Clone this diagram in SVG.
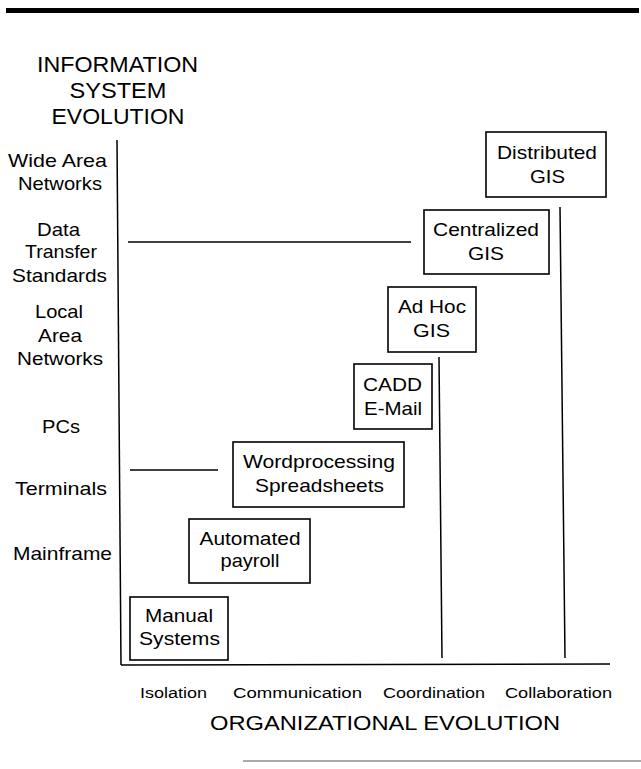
<svg xmlns="http://www.w3.org/2000/svg" width="641" height="769" viewBox="0 0 641 769">
  <style>
    text { font-family: "Liberation Sans", Arial, Helvetica, sans-serif; fill: #000; text-anchor: middle; }
    .title { font-size: 22px; }
    .lvl { font-size: 18.5px; }
    .box text { font-size: 18.5px; }
    .stage { font-size: 15.5px; }
    .box rect { fill: #fff; stroke: #000; stroke-width: 1.6; }
    .line { stroke: #000; stroke-width: 1.5; fill: none; }
  </style>

  <!-- heavy rule across the top of the page -->
  <rect x="6" y="8" width="633" height="5" fill="#000"/>

  <!-- vertical axis title -->
  <g id="y-title" class="title">
    <text x="117.5" y="72" textLength="161" lengthAdjust="spacingAndGlyphs">INFORMATION</text>
    <text x="118" y="98" textLength="97" lengthAdjust="spacingAndGlyphs">SYSTEM</text>
    <text x="118" y="124" textLength="133" lengthAdjust="spacingAndGlyphs">EVOLUTION</text>
  </g>

  <!-- technology levels along the vertical axis -->
  <g id="y-levels" class="lvl">
    <text x="57.5" y="167" textLength="99" lengthAdjust="spacingAndGlyphs">Wide Area</text>
    <text x="60" y="190" textLength="84" lengthAdjust="spacingAndGlyphs">Networks</text>
    <text x="58.5" y="236" textLength="43" lengthAdjust="spacingAndGlyphs">Data</text>
    <text x="61" y="258" textLength="72" lengthAdjust="spacingAndGlyphs">Transfer</text>
    <text x="59.5" y="282" textLength="95" lengthAdjust="spacingAndGlyphs">Standards</text>
    <text x="59" y="318" textLength="48" lengthAdjust="spacingAndGlyphs">Local</text>
    <text x="60" y="342" textLength="44" lengthAdjust="spacingAndGlyphs">Area</text>
    <text x="60" y="365" textLength="86" lengthAdjust="spacingAndGlyphs">Networks</text>
    <text x="61" y="433" textLength="38" lengthAdjust="spacingAndGlyphs">PCs</text>
    <text x="61" y="495" textLength="92" lengthAdjust="spacingAndGlyphs">Terminals</text>
    <text x="62.5" y="560" textLength="99" lengthAdjust="spacingAndGlyphs">Mainframe</text>
  </g>

  <!-- axes -->
  <g id="axes" class="line">
    <line x1="117" y1="140" x2="121" y2="665"/>
    <line x1="121" y1="665" x2="610" y2="664"/>
  </g>

  <!-- connectors -->
  <g id="connectors" class="line">
    <line x1="128" y1="242" x2="411" y2="242"/>
    <line x1="130" y1="470" x2="218" y2="470"/>
    <line x1="439" y1="357" x2="442" y2="658"/>
    <line x1="560" y1="207" x2="565" y2="658"/>
  </g>

  <!-- stages -->
  <g id="manual" class="box">
    <rect x="130" y="597" width="98" height="63"/>
    <text x="179" y="622" textLength="68" lengthAdjust="spacingAndGlyphs">Manual</text>
    <text x="179.5" y="645" textLength="81" lengthAdjust="spacingAndGlyphs">Systems</text>
  </g>
  <g id="automated" class="box">
    <rect x="189" y="519" width="121" height="64"/>
    <text x="250" y="545" textLength="101" lengthAdjust="spacingAndGlyphs">Automated</text>
    <text x="250" y="567" textLength="59" lengthAdjust="spacingAndGlyphs">payroll</text>
  </g>
  <g id="wordprocessing" class="box">
    <rect x="233" y="442" width="171" height="65"/>
    <text x="319" y="468" textLength="152" lengthAdjust="spacingAndGlyphs">Wordprocessing</text>
    <text x="319.5" y="492" textLength="129" lengthAdjust="spacingAndGlyphs">Spreadsheets</text>
  </g>
  <g id="cadd" class="box">
    <rect x="354" y="364" width="78" height="65"/>
    <text x="392.5" y="391" textLength="59" lengthAdjust="spacingAndGlyphs">CADD</text>
    <text x="393" y="415" textLength="58" lengthAdjust="spacingAndGlyphs">E-Mail</text>
  </g>
  <g id="adhoc" class="box">
    <rect x="388" y="287" width="88" height="65"/>
    <text x="432" y="313" textLength="68" lengthAdjust="spacingAndGlyphs">Ad Hoc</text>
    <text x="431.5" y="337" textLength="37" lengthAdjust="spacingAndGlyphs">GIS</text>
  </g>
  <g id="centralized" class="box">
    <rect x="424" y="210" width="125" height="64"/>
    <text x="486" y="236" textLength="106" lengthAdjust="spacingAndGlyphs">Centralized</text>
    <text x="486" y="260" textLength="36" lengthAdjust="spacingAndGlyphs">GIS</text>
  </g>
  <g id="distributed" class="box">
    <rect x="486" y="132" width="120" height="65"/>
    <text x="547" y="159" textLength="100" lengthAdjust="spacingAndGlyphs">Distributed</text>
    <text x="547.5" y="183" textLength="35" lengthAdjust="spacingAndGlyphs">GIS</text>
  </g>

  <!-- organizational stages along the horizontal axis -->
  <g id="x-stages" class="stage">
    <text x="173.5" y="698" textLength="67" lengthAdjust="spacingAndGlyphs">Isolation</text>
    <text x="297.5" y="698" textLength="129" lengthAdjust="spacingAndGlyphs">Communication</text>
    <text x="434" y="698" textLength="102" lengthAdjust="spacingAndGlyphs">Coordination</text>
    <text x="558.5" y="698" textLength="107" lengthAdjust="spacingAndGlyphs">Collaboration</text>
  </g>
  <g id="x-title">
    <text x="385" y="730" font-size="21" textLength="350" lengthAdjust="spacingAndGlyphs">ORGANIZATIONAL EVOLUTION</text>
  </g>

  <!-- thin rule at the foot of the page -->
  <line x1="243" y1="761" x2="641" y2="761" stroke="#555" stroke-width="1"/>
</svg>
